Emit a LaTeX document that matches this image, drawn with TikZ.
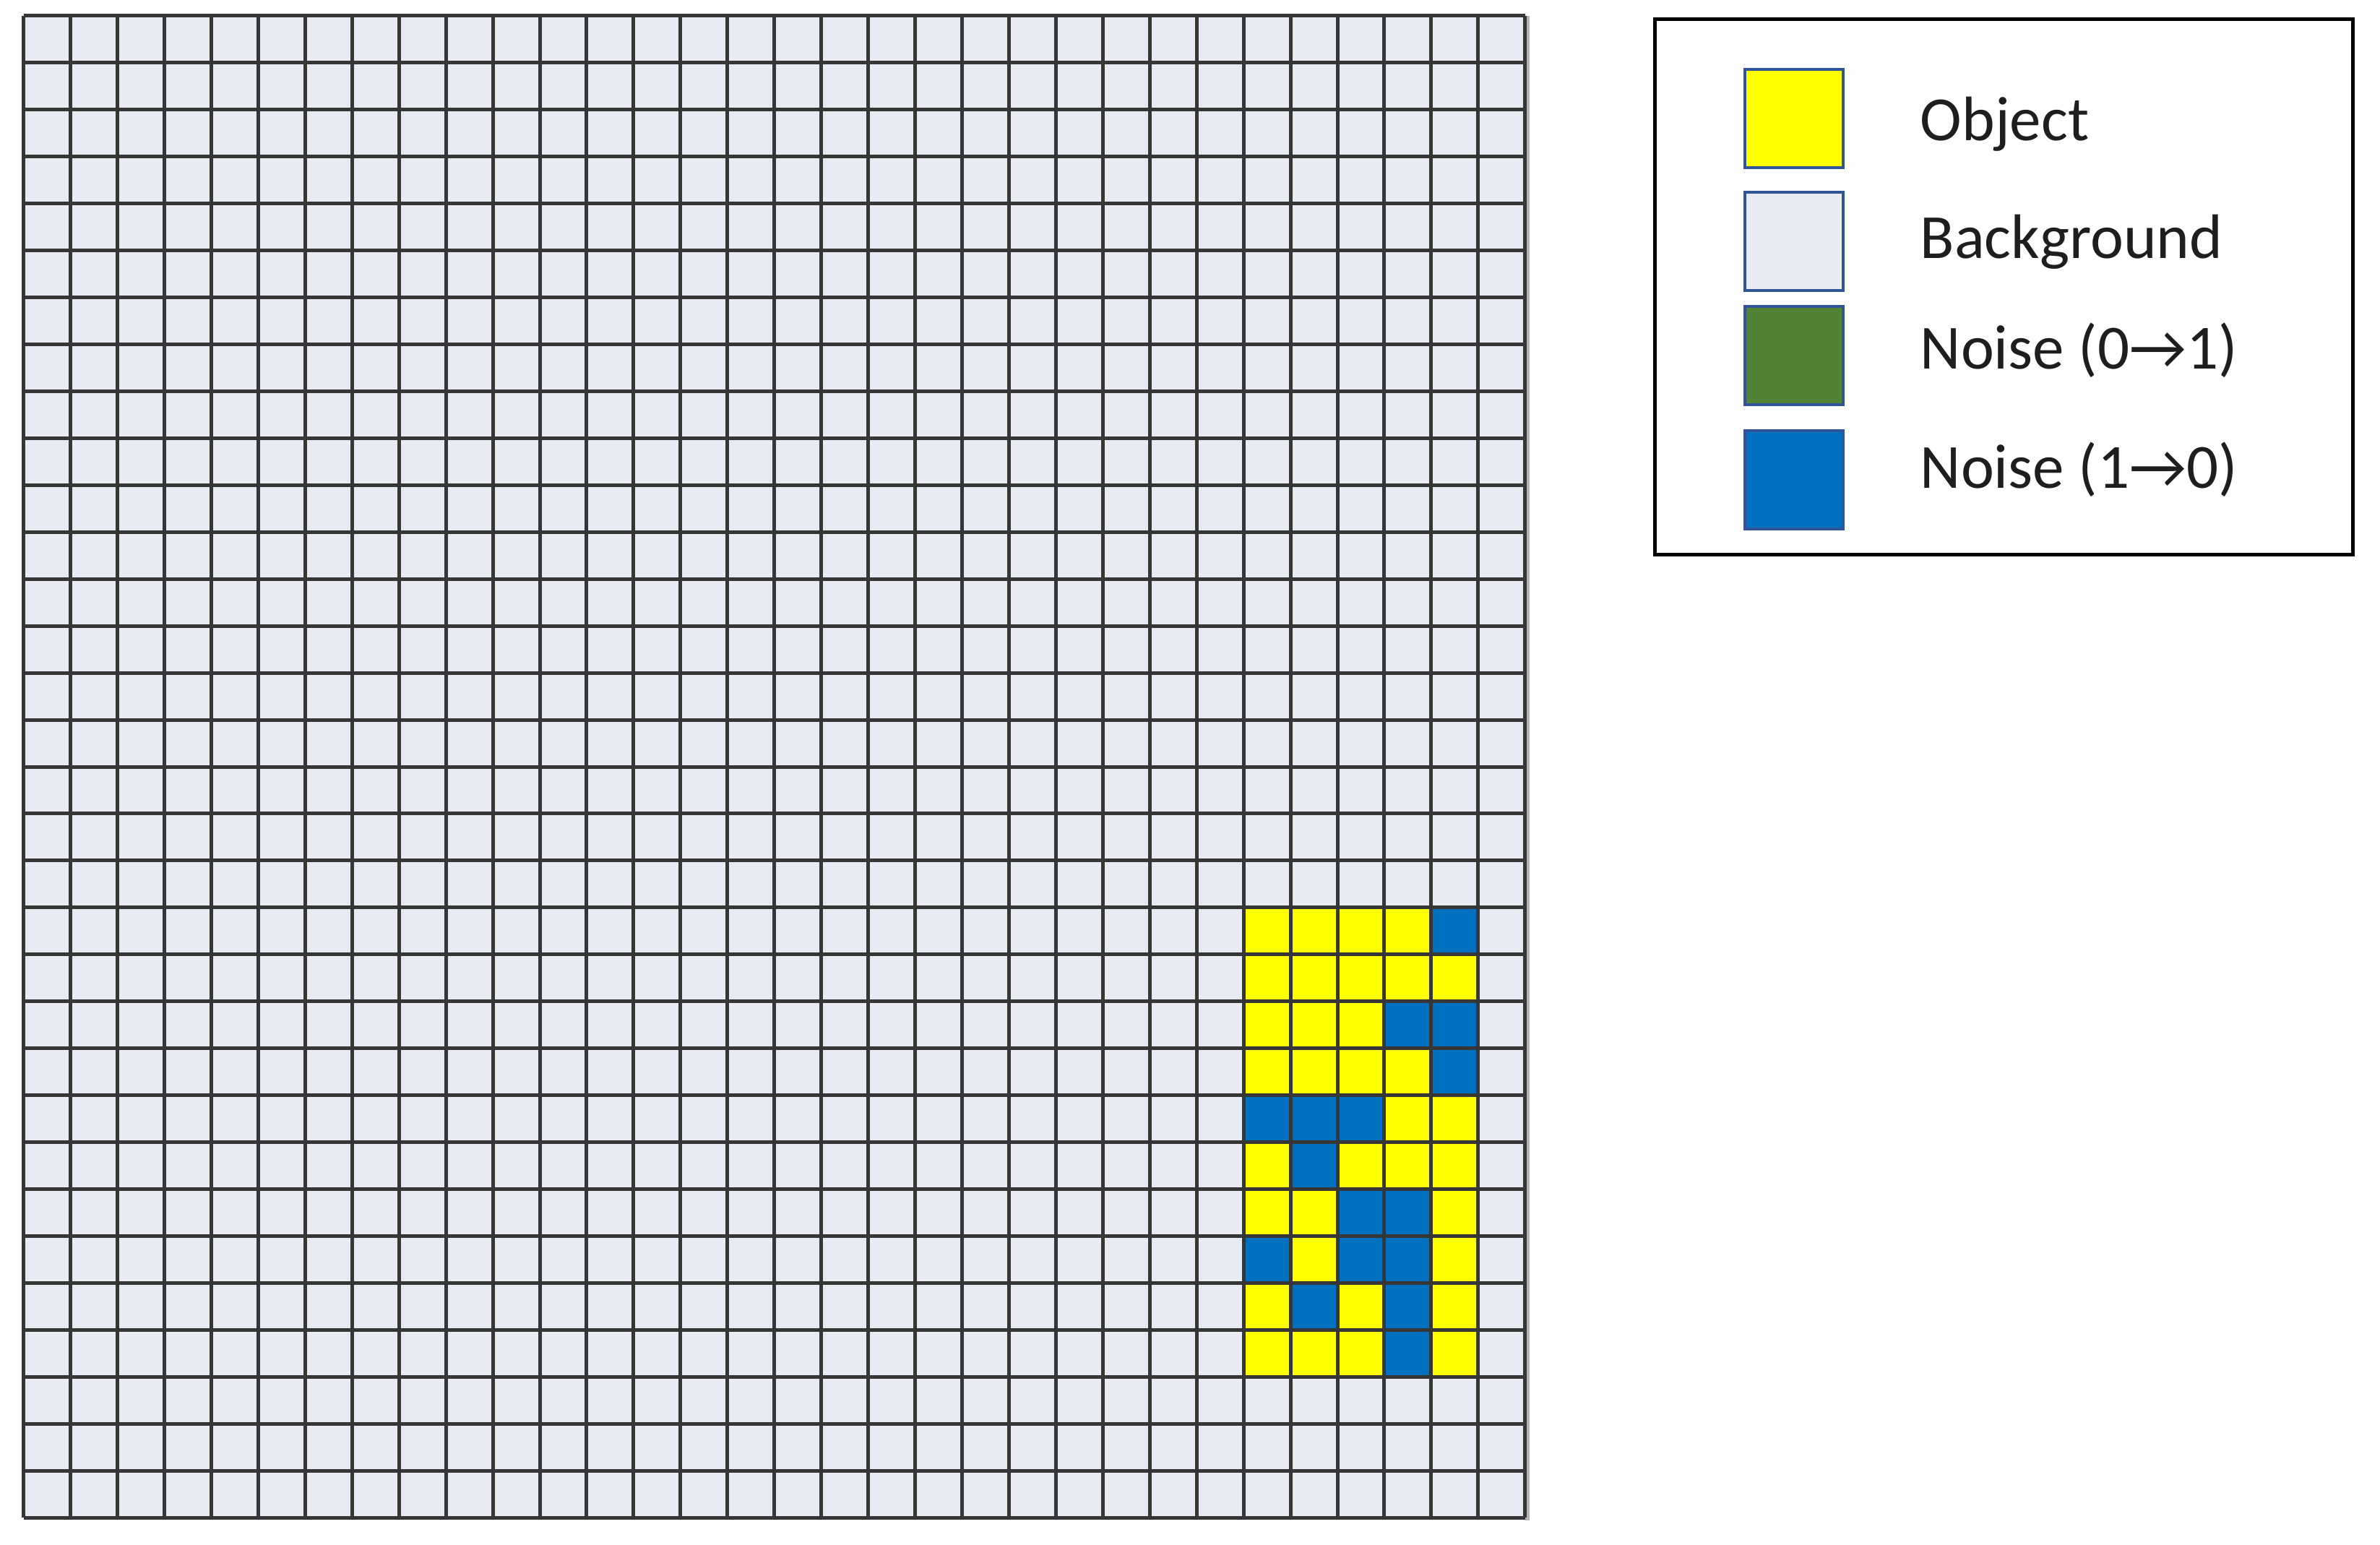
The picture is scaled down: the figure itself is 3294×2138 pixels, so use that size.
\documentclass[tikz,border=0pt]{standalone}
\usepackage{fontspec}
\setmainfont{Carlito}
\definecolor{bgcell}{HTML}{E8EAF4}
\definecolor{objyellow}{HTML}{FFFF00}
\definecolor{noiseblue}{HTML}{0070C0}
\definecolor{noisegreen}{HTML}{548235}
\definecolor{keyedge}{HTML}{2F5597}
\definecolor{gridline}{HTML}{363636}
\definecolor{gridshade}{HTML}{B4B4B8}
\definecolor{keytext}{HTML}{1E1E1E}
\begin{document}
\begin{tikzpicture}[x=0.25pt,y=-0.25pt,
  gridrule/.style={draw=gridline,line width=1.25pt},
  keybox/.style={draw=black,line width=1.25pt,minimum width=241.5pt,minimum height=185pt,inner sep=0pt},
  keyswatch/.style={draw=keyedge,line width=0.8pt,minimum width=34pt,minimum height=34pt,inner sep=0pt},
  keylabel/.style={anchor=base west,inner sep=0pt,text=keytext,font=\fontsize{21.75pt}{26pt}\selectfont}]
\useasboundingbox (0,0) rectangle (3294,2138);
\def\gx{32.7}
\def\gy{22}
\def\cs{64.94}
% faint shade at right edge
\fill[gridshade] (2110,22) rectangle (2117,2104);
% background cells
\fill[bgcell] (\gx,\gy) rectangle ++(2078.08,2078.08);
% object block
\fill[objyellow] ({\gx+26*\cs},{\gy+19*\cs}) rectangle ++({5*\cs},{10*\cs});
% noise (1->0) cells
\foreach \c/\r in {30/19,29/21,30/21,30/22,26/23,27/23,28/23,27/24,28/25,29/25,26/26,28/26,29/26,27/27,29/27,29/28}
  \fill[noiseblue] ({\gx+\c*\cs},{\gy+\r*\cs}) rectangle ++(\cs,\cs);
% grid lines
\foreach \i in {0,...,32} {
  \draw[gridrule] ({\gx+\i*\cs},\gy) -- ++(0,2078.08);
  \draw[gridrule] (\gx,{\gy+\i*\cs}) -- ++(2078.08,0);
}
% legend
\node[keybox] (key) at (2773,397) {};
\node[keyswatch,fill=objyellow] (sw1) at (2483,164) {};
\node[keyswatch,fill=bgcell] (sw2) at (2483,334) {};
\node[keyswatch,fill=noisegreen] (sw3) at (2483,492) {};
\node[keyswatch,fill=noiseblue] (sw4) at (2483,664) {};
\node[keylabel] (t1) at (2657,195) {Object};
\node[keylabel] (t2) at (2657,358) {Background};
\node[keylabel] (t3) at (2657,511) {Noise (0→1)};
\node[keylabel] (t4) at (2657,675) {Noise (1→0)};
\end{tikzpicture}
\end{document}
